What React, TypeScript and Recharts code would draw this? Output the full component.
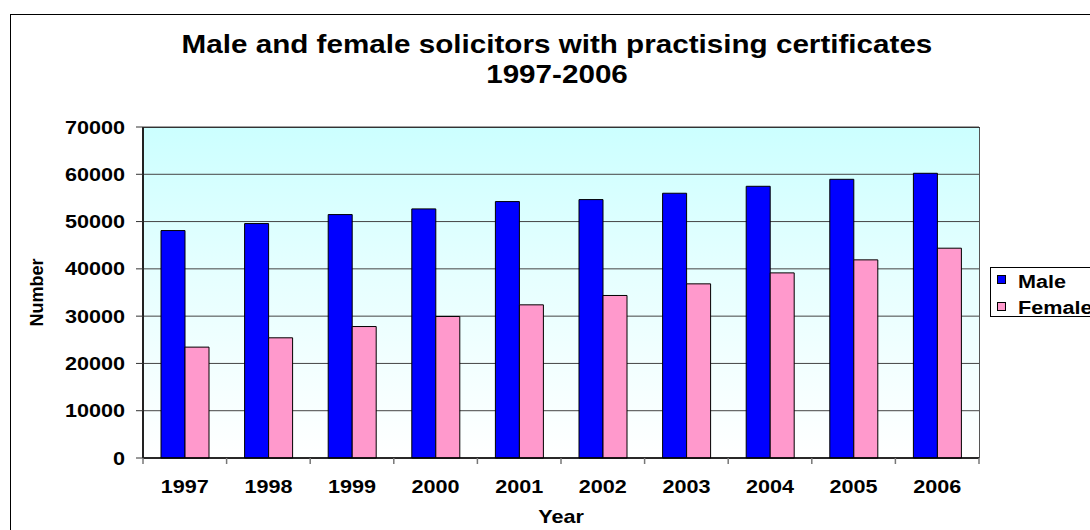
import { BarChart, Bar, XAxis, YAxis, CartesianGrid, Legend } from 'recharts';

// Solicitors with practising certificates, by sex
const years = ['1997', '1998', '1999', '2000', '2001', '2002', '2003', '2004', '2005', '2006'];
const male = [48100, 49580, 51480, 52680, 54230, 54650, 55990, 57460, 58940, 60210];
const female = [23450, 25420, 27800, 29930, 32390, 34370, 36830, 39150, 41900, 44370];
const yTicks = [0, 10000, 20000, 30000, 40000, 50000, 60000, 70000];
const seriesOrder = ['Male', 'Female'];

const data = years.map((year, i) => ({ year, male: male[i], female: female[i] }));

const FONT = '"Liberation Sans", Arial, Helvetica, sans-serif';
const STRETCH = 1.2;

const W = 1090;
const H = 530;
const PLOT_LEFT = 143;
const PLOT_RIGHT = 979;
const PLOT_TOP = 127;
const PLOT_BOTTOM = 458;
const HALF_BAND = (PLOT_RIGHT - PLOT_LEFT) / years.length / 2;

const XTick = (props: any) => {
  const { x, y, payload, index } = props;
  const last = index === years.length - 1;
  return (
    <g>
      <line x1={x - HALF_BAND} x2={x - HALF_BAND} y1={y} y2={y + 6} stroke="#777" strokeWidth={1.5} />
      {last && <line x1={x + HALF_BAND} x2={x + HALF_BAND} y1={y} y2={y + 6} stroke="#777" strokeWidth={1.5} />}
      <g transform={`translate(${x},${y + 35}) scale(${STRETCH},1)`}>
        <text textAnchor="middle" fontFamily={FONT} fontWeight="bold" fontSize={18} fill="#000">
          {payload.value}
        </text>
      </g>
    </g>
  );
};

const YTick = (props: any) => {
  const { x, y, payload } = props;
  return (
    <g transform={`translate(${x},${y + 6.5}) scale(${STRETCH},1)`}>
      <text textAnchor="end" fontFamily={FONT} fontWeight="bold" fontSize={18} fill="#000">
        {payload.value}
      </text>
    </g>
  );
};

const YearLabel = (props: any) => {
  const { viewBox } = props;
  return (
    <g transform={`translate(${viewBox.x + viewBox.width / 2},${viewBox.y + 65}) scale(${STRETCH},1)`}>
      <text textAnchor="middle" fontFamily={FONT} fontWeight="bold" fontSize={18} fill="#000">
        Year
      </text>
    </g>
  );
};

const NumberLabel = (props: any) => {
  const { viewBox } = props;
  return (
    <g transform={`translate(43,${viewBox.y + viewBox.height / 2}) rotate(-90)`}>
      <text textAnchor="middle" fontFamily={FONT} fontWeight="bold" fontSize={18} fill="#000">
        Number
      </text>
    </g>
  );
};

const LegendBox = (props: any) => {
  const items = [...(props.payload || [])].sort(
    (a: any, b: any) => seriesOrder.indexOf(a.value) - seriesOrder.indexOf(b.value)
  );
  return (
    <div
      style={{
        position: 'relative',
        width: 200,
        height: 50,
        boxSizing: 'border-box',
        border: '1px solid #000',
        background: '#fff',
        fontFamily: FONT,
        fontWeight: 'bold',
        fontSize: 18,
        lineHeight: '18px',
      }}
    >
      {items.map((item: any, i: number) => (
        <div key={item.value}>
          <div
            style={{
              position: 'absolute',
              left: 6,
              top: 7 + i * 27,
              width: 9,
              height: 9,
              boxSizing: 'border-box',
              border: '1px solid #000',
              background: item.color,
            }}
          />
          <span
            style={{
              position: 'absolute',
              left: 27,
              top: 5 + i * 26,
              whiteSpace: 'nowrap',
              color: '#000',
              transform: `scaleX(${STRETCH})`,
              transformOrigin: 'left',
            }}
          >
            {item.value}
          </span>
        </div>
      ))}
    </div>
  );
};

export default function App() {
  return (
    <div style={{ position: 'absolute', left: 0, top: 0, width: W, height: H, overflow: 'hidden', background: '#fff' }}>
      <div style={{ position: 'absolute', left: 10, top: 14, width: 1200, height: 700, border: '1px solid #000' }} />
      <div
        style={{
          position: 'absolute',
          left: PLOT_LEFT,
          top: PLOT_TOP,
          width: PLOT_RIGHT - PLOT_LEFT + 1,
          height: PLOT_BOTTOM - PLOT_TOP,
          boxSizing: 'border-box',
          borderTop: '1px solid #222',
          borderRight: '1.5px solid #555',
          background: 'linear-gradient(to bottom, #ccffff 0%, #e6ffff 45%, #ffffff 100%)',
        }}
      />
      <div style={{ position: 'absolute', left: 0, top: 0 }}>
        <BarChart
          width={W}
          height={H}
          data={data}
          margin={{ top: PLOT_TOP, right: W - PLOT_RIGHT, bottom: 0, left: 0 }}
          barGap={0}
          barSize={24}
        >
          <CartesianGrid vertical={false} stroke="#444" />
          <XAxis
            dataKey="year"
            height={H - PLOT_BOTTOM}
            axisLine={{ stroke: '#000', strokeWidth: 1.5 }}
            tickLine={false}
            tickSize={0}
            tickMargin={0}
            interval={0}
            tick={<XTick />}
            label={{ content: <YearLabel /> }}
          />
          <YAxis
            width={PLOT_LEFT}
            domain={[0, 70000]}
            ticks={yTicks}
            axisLine={{ stroke: '#222', strokeWidth: 2 }}
            tickLine={{ stroke: '#333' }}
            tickSize={7}
            tickMargin={11}
            tick={<YTick />}
            label={{ content: <NumberLabel /> }}
          />
          <Legend
            layout="horizontal"
            verticalAlign="middle"
            align="center"
            wrapperStyle={{ left: 990, top: 267, width: 200 }}
            content={<LegendBox />}
          />
          <Bar dataKey="male" name="Male" fill="#0000ff" stroke="#000" strokeWidth={1} isAnimationActive={false} />
          <Bar dataKey="female" name="Female" fill="#ff99cc" stroke="#000" strokeWidth={1} isAnimationActive={false} />
        </BarChart>
      </div>
      <div
        style={{
          position: 'absolute',
          left: 57,
          top: 29,
          width: 1000,
          textAlign: 'center',
          fontFamily: FONT,
          fontWeight: 'bold',
          fontSize: 25,
          lineHeight: '30px',
          color: '#000',
          transform: 'scaleX(1.185)',
          transformOrigin: 'center',
        }}
      >
        Male and female solicitors with practising certificates
        <br />
        1997-2006
      </div>
    </div>
  );
}
